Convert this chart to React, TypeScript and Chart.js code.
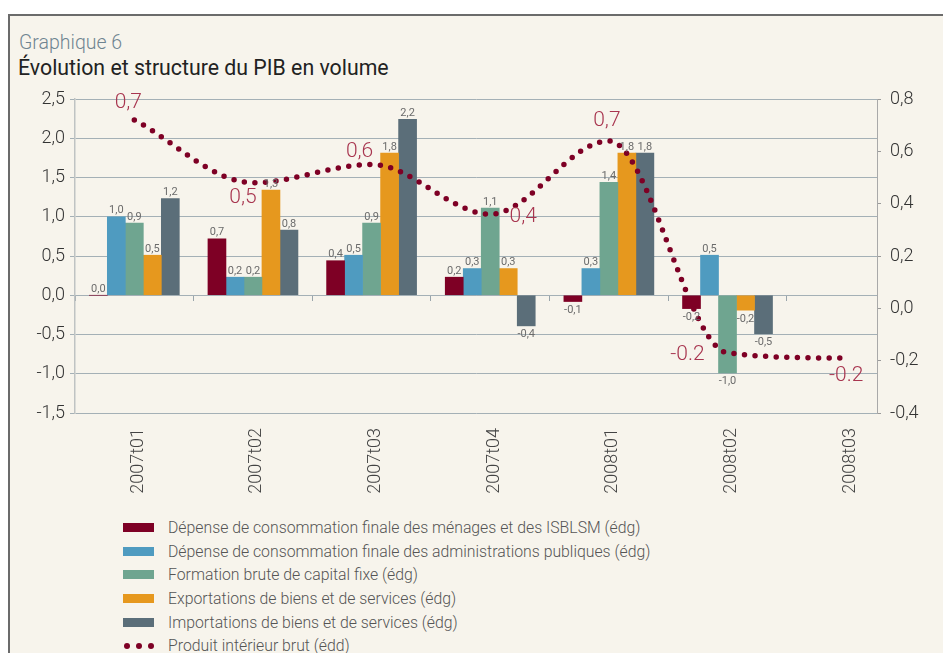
import React, { useEffect, useRef } from "react";
import { Chart, registerables } from "chart.js";

Chart.register(...registerables);

// ---- Data ----
const CATEGORIES = ["2007t01", "2007t02", "2007t03", "2007t04", "2008t01", "2008t02", "2008t03"];
const MENAGES = [0.0, 0.72, 0.44, 0.23, -0.08, -0.17, null];
const APU = [1.0, 0.23, 0.51, 0.34, 0.34, 0.51, null];
const FBCF = [0.92, 0.23, 0.92, 1.11, 1.44, -0.99, null];
const EXPORTS = [0.51, 1.34, 1.81, 0.34, 1.81, -0.19, null];
const IMPORTS = [1.23, 0.83, 2.24, -0.39, 1.81, -0.49, null];
const PIB = [0.72, 0.48, 0.55, 0.36, 0.64, -0.17, -0.19];
const PIB_LABELS = ["0,7", "0,5", "0,6", "0,4", "0,7", "-0.2", "-0.2"];
const LEFT_TICKS = [-1.5, -1.0, -0.5, 0.0, 0.5, 1.0, 1.5, 2.0, 2.5];
const RIGHT_TICKS = [-0.4, -0.2, 0.0, 0.2, 0.4, 0.6, 0.8];

const SERIES_NAMES = [
  "Dépense de consommation finale des ménages et des ISBLSM (édg)",
  "Dépense de consommation finale des administrations publiques (édg)",
  "Formation brute de capital fixe (édg)",
  "Exportations de biens et de services (édg)",
  "Importations de biens et de services (édg)",
];
const LINE_NAME = "Produit intérieur brut (édd)";
const SERIES_VALUES = [MENAGES, APU, FBCF, EXPORTS, IMPORTS];

// ---- Styles ----
const COLORS = ["#7e0025", "#4f9bc0", "#6fa590", "#e6981e", "#5b6e79"];
const LINE_COLOR = "#7e0025";
const LINE_LABEL_COLOR = "#a8354f";
const FONT = "Roboto, 'DejaVu Sans', sans-serif";
const X_MIN = -0.5;
const X_MAX = 6.26;
const CANVAS_H = 510;
// label offset from its point, in px (dx, dy of label centre)
const LINE_LABEL_OFFSETS: [number, number][] = [
  [-6, -19],
  [-10, 13],
  [-12, -15],
  [33, 0],
  [-2, -22],
  [-40, 0],
  [0, 15],
];

const fmt = (v: number) => v.toFixed(1).replace(".", ",");

const labelsPlugin = {
  id: "valueLabels",
  afterDatasetsDraw(chart: any) {
    const ctx = chart.ctx;
    ctx.save();
    chart.data.datasets.forEach((ds: any, di: number) => {
      const meta = chart.getDatasetMeta(di);
      if (meta.hidden) return;
      if (ds.type === "bar") {
        ctx.font = `400 11px ${FONT}`;
        ctx.fillStyle = "#6b6b6b";
        ctx.textAlign = "center";
        ctx.textBaseline = "alphabetic";
        meta.data.forEach((el: any, i: number) => {
          const v = ds.data[i].y;
          const txt = fmt(v);
          if (v >= 0) ctx.fillText(txt, el.x, el.y - 3.5);
          else ctx.fillText(txt, el.x, el.y + 11.5);
        });
      } else if (ds.type === "line") {
        ctx.font = `300 21px ${FONT}`;
        ctx.fillStyle = LINE_LABEL_COLOR;
        ctx.textAlign = "center";
        ctx.textBaseline = "alphabetic";
        meta.data.forEach((el: any, i: number) => {
          const [dx, dy] = LINE_LABEL_OFFSETS[i];
          ctx.fillText(PIB_LABELS[i], el.x + dx, el.y + dy + 7.5);
        });
      }
    });
    ctx.restore();
  },
};

export default function App() {
  const ref = useRef<HTMLCanvasElement>(null);

  useEffect(() => {
    const barSets = SERIES_VALUES.map((vals, k) => ({
      type: "bar" as const,
      label: SERIES_NAMES[k],
      data: vals
        .map((v, i) => ({ x: i, y: v }))
        .filter((p) => p.y !== null),
      backgroundColor: COLORS[k],
      borderWidth: 0,
      barThickness: 18,
      xAxisID: "x",
      yAxisID: "y",
      order: 1,
    }));
    const lineSet = {
      type: "line" as const,
      label: LINE_NAME,
      data: PIB.map((v, i) => ({ x: i, y: v })),
      xAxisID: "x",
      yAxisID: "y1",
      borderColor: LINE_COLOR,
      borderWidth: 5.5,
      borderDash: [0, 10.6],
      borderCapStyle: "round",
      pointRadius: 0,
      cubicInterpolationMode: "monotone",
      fill: false,
      order: 0,
    };
    const tickFont = { family: FONT, size: 18, weight: 300 as any };
    const chart = new Chart(ref.current!, {
      type: "bar",
      data: { datasets: [lineSet as any, ...barSets] },
      options: {
        responsive: false,
        animation: false,
        layout: { padding: { top: 99, left: 0, right: 0, bottom: 0 } },
        plugins: { legend: { display: false }, tooltip: { enabled: false } },
        scales: {
          x: {
            type: "linear",
            position: "bottom",
            offset: false,
            min: X_MIN,
            max: X_MAX,
            afterBuildTicks: (s: any) => {
              s.ticks = CATEGORIES.map((_, i) => ({ value: i }));
            },
            afterFit: (s: any) => {
              s.height = CANVAS_H - 413;
            },
            ticks: {
              autoSkip: false,
              minRotation: 90,
              maxRotation: 90,
              padding: 15,
              labelOffset: 4,
              color: "#444",
              font: tickFont,
              callback: (v: any) => CATEGORIES[v] ?? "",
            },
            grid: { display: false, drawTicks: false, offset: false },
            border: { display: false },
          },
          x2: {
            type: "linear",
            axis: "x",
            position: { y: 0 } as any,
            offset: false,
            min: X_MIN,
            max: X_MAX,
            afterBuildTicks: (s: any) => {
              s.ticks = CATEGORIES.map((_, i) => ({ value: i - 0.5 }));
            },
            ticks: { display: false },
            grid: { drawOnChartArea: false, drawTicks: true, tickLength: 5, color: "#9aa5ab", offset: false },
            border: { display: true, color: "#a4b0b6", width: 1 },
          },
          y: {
            type: "linear",
            position: "left",
            min: -1.5,
            max: 2.5,
            afterBuildTicks: (s: any) => {
              s.ticks = LEFT_TICKS.map((v) => ({ value: v }));
            },
            afterFit: (s: any) => {
              s.width = 75;
            },
            ticks: { padding: 5, color: "#333", font: tickFont, callback: (v: any) => fmt(Number(v)) },
            grid: { color: "#a4b0b6", tickLength: 5, lineWidth: 1 },
            border: { display: true, color: "#bfc3c3", width: 1.5 },
          },
          y1: {
            type: "linear",
            position: "right",
            min: -0.4,
            max: 0.8,
            afterBuildTicks: (s: any) => {
              s.ticks = RIGHT_TICKS.map((v) => ({ value: v }));
            },
            afterFit: (s: any) => {
              s.width = 66;
            },
            ticks: { padding: 9, color: "#333", font: tickFont, callback: (v: any) => fmt(Number(v)) },
            grid: { drawOnChartArea: false, tickLength: 4, color: "#9a9a9a" },
            border: { display: true, color: "#a9a9a9", width: 1 },
          },
        },
      } as any,
      plugins: [labelsPlugin],
    });
    return () => chart.destroy();
  }, []);

  const rowH = 23.7;
  const legendText = { marginLeft: 14, fontSize: 15.8, fontWeight: 300, color: "#555", whiteSpace: "nowrap" } as const;
  return (
    <div
      style={{
        position: "fixed",
        left: 0,
        top: 0,
        width: 943,
        height: 653,
        background: "#ffffff",
        overflow: "hidden",
        fontFamily: FONT,
      }}
    >
      <div
        style={{
          position: "absolute",
          left: 8,
          top: 14,
          width: 1000,
          height: 1000,
          border: "2px solid #6b6b6b",
          background: "#f7f4ec",
        }}
      />
      <div
        style={{
          position: "absolute",
          left: 19,
          top: 32.5,
          fontSize: 19.5,
          lineHeight: 1,
          color: "#6f8491",
          fontWeight: 300,
          whiteSpace: "nowrap",
        }}
      >
        Graphique 6
      </div>
      <div
        style={{
          position: "absolute",
          left: 18,
          top: 57,
          fontSize: 21.3,
          lineHeight: 1,
          color: "#222",
          fontWeight: 400,
          whiteSpace: "nowrap",
        }}
      >
        Évolution et structure du PIB en volume
      </div>
      <canvas ref={ref} width={943} height={CANVAS_H} style={{ position: "absolute", left: 0, top: 0 }} />
      <div style={{ position: "absolute", left: 123, top: 527.5 - rowH / 2 }}>
        {SERIES_NAMES.map((name, k) => (
          <div key={name} style={{ display: "flex", alignItems: "center", height: rowH }}>
            <div style={{ width: 31, height: 9, background: COLORS[k], flex: "none" }} />
            <div style={legendText}>{name}</div>
          </div>
        ))}
        <div style={{ display: "flex", alignItems: "center", height: rowH }}>
          <div
            style={{
              width: 31,
              height: 9,
              display: "flex",
              justifyContent: "space-between",
              alignItems: "center",
              flex: "none",
              paddingLeft: 1,
              boxSizing: "border-box",
            }}
          >
            {[0, 1, 2].map((d) => (
              <div key={d} style={{ width: 6, height: 6, borderRadius: 3, background: LINE_COLOR }} />
            ))}
          </div>
          <div style={legendText}>{LINE_NAME}</div>
        </div>
      </div>
    </div>
  );
}
